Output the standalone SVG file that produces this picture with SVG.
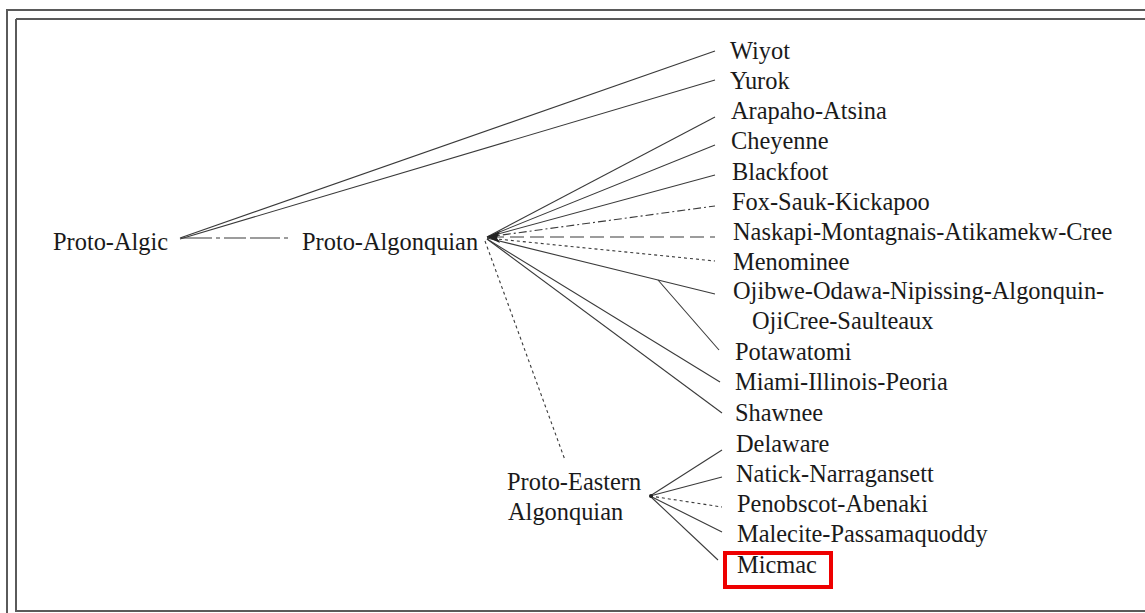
<svg xmlns="http://www.w3.org/2000/svg" width="1145" height="613" viewBox="0 0 1145 613">
<style>
.t{font-family:'Liberation Serif',serif;font-size:24.4px;fill:#1a1a1a}
.c{stroke:#3a3a3a;stroke-width:1.1;fill:none}
.dash{stroke-dasharray:14 6}
.dot{stroke-dasharray:3 3}
.dd{stroke-dasharray:8 3 2 3}
.frame{stroke:#5a5a5a;stroke-width:2;fill:none}
</style>
<rect width="1145" height="613" fill="#fff"/>
<g id="frame">
<path class="frame" d="M7,613 V10 H1145"/>
<path class="frame" d="M16,19 H1145 M16,19 V611 H1145"/>
</g>
<g id="connectors">
<line class="c" x1="180" y1="238" x2="715" y2="51"/>
<line class="c" x1="180" y1="239" x2="715" y2="80"/>
<line class="c" x1="182" y1="238" x2="288" y2="238" stroke-dasharray="30 4 4 4 22 4"/>
<line class="c" x1="487" y1="237" x2="715" y2="117"/>
<line class="c" x1="487" y1="237" x2="715" y2="145"/>
<line class="c" x1="487" y1="237" x2="715" y2="175"/>
<line class="c dd" x1="487" y1="237" x2="715" y2="206"/>
<line class="c dash" x1="490" y1="237" x2="715" y2="237"/>
<line class="c dot" x1="487" y1="238" x2="715" y2="261"/>
<polyline class="c" points="487,238 658,280 715,294"/>
<line class="c" x1="658" y1="280" x2="719" y2="350"/>
<line class="c" x1="487" y1="239" x2="720" y2="382"/>
<line class="c" x1="487" y1="239" x2="722" y2="413"/>
<line class="c dot" x1="485" y1="241" x2="565" y2="460"/>
<polygon points="487,237 500,231 497,238 500,243" fill="#222"/>
<line class="c" x1="650" y1="496" x2="722" y2="450"/>
<line class="c" x1="650" y1="496" x2="722" y2="477"/>
<line class="c dot" x1="650" y1="496" x2="722" y2="507"/>
<line class="c" x1="650" y1="496" x2="722" y2="532"/>
<line class="c" x1="650" y1="496" x2="718" y2="560"/>
<circle cx="651" cy="496" r="2" fill="#222"/>
</g>
<g class="t" font-family="Liberation Serif, serif">
<g id="proto-algic"><text x="53" y="250">Proto-Algic</text></g>
<g id="proto-algonquian"><text x="302" y="250">Proto-Algonquian</text></g>
<g id="proto-eastern"><text x="507" y="490">Proto-Eastern</text><text x="508" y="520">Algonquian</text></g>
<g id="wiyot"><text x="730" y="59">Wiyot</text></g>
<g id="yurok"><text x="730" y="89">Yurok</text></g>
<g id="arapaho"><text x="731" y="119">Arapaho-Atsina</text></g>
<g id="cheyenne"><text x="731" y="149">Cheyenne</text></g>
<g id="blackfoot"><text x="732" y="180">Blackfoot</text></g>
<g id="fox"><text x="732" y="210">Fox-Sauk-Kickapoo</text></g>
<g id="naskapi"><text x="733" y="240">Naskapi-Montagnais-Atikamekw-Cree</text></g>
<g id="menominee"><text x="733" y="270">Menominee</text></g>
<g id="ojibwe"><text x="733" y="299">Ojibwe-Odawa-Nipissing-Algonquin-</text><text x="752" y="329">OjiCree-Saulteaux</text></g>
<g id="potawatomi"><text x="735" y="360">Potawatomi</text></g>
<g id="miami"><text x="735" y="390">Miami-Illinois-Peoria</text></g>
<g id="shawnee"><text x="735" y="421">Shawnee</text></g>
<g id="delaware"><text x="736" y="452">Delaware</text></g>
<g id="natick"><text x="736" y="482">Natick-Narragansett</text></g>
<g id="penobscot"><text x="737" y="512">Penobscot-Abenaki</text></g>
<g id="malecite"><text x="737" y="542">Malecite-Passamaquoddy</text></g>
<g id="micmac"><rect x="725" y="553" width="106" height="34" fill="none" stroke="#e00" stroke-width="4"/><text x="737" y="573">Micmac</text></g>
</g>
</svg>
